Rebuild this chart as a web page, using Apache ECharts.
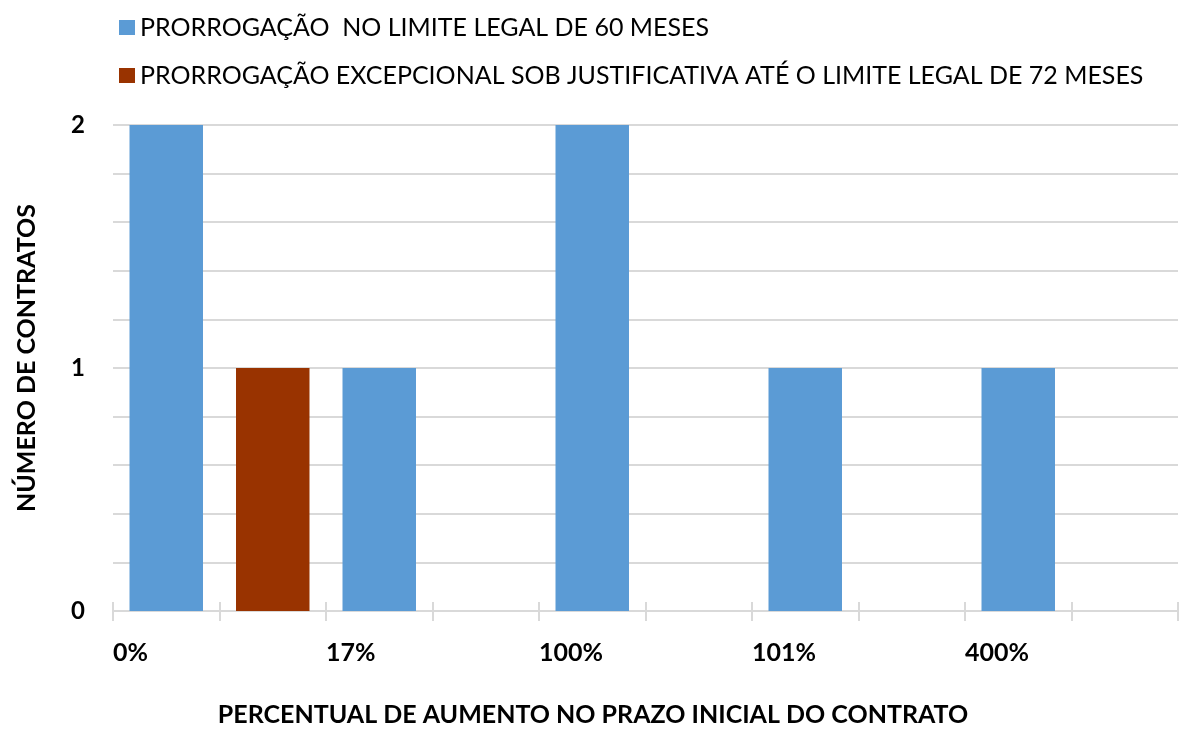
<!DOCTYPE html>
<html>
<head>
<meta charset="utf-8">
<script src="https://cdn.jsdelivr.net/npm/echarts@6/dist/echarts.min.js"></script>
<style>
  html, body { margin: 0; padding: 0; background: #fff; }
  #chart { width: 1181px; height: 731px; }
</style>
</head>
<body>
<div id="chart"></div>
<script>
// categories (one slot per band, the extra slots are the empty gaps)
const categories = ['c0', 'c1', 'c2', 'c3', 'c4', 'c5', 'c6', 'c7', 'c8', 'c9']
const xTickLabels = ['0%', '17%', '100%', '101%', '400%', '']
const seriesNames = [
  'PRORROGAÇÃO  NO LIMITE LEGAL DE 60 MESES',
  'PRORROGAÇÃO EXCEPCIONAL SOB JUSTIFICATIVA ATÉ O LIMITE LEGAL DE 72 MESES'
]
const prazo60 = [2, null, 1, null, 2, null, 1, null, 1, null]
const prazo72 = [null, 1, null, null, null, null, null, null, null, null]
const yName = 'NÚMERO DE CONTRATOS'
const xName = 'PERCENTUAL DE AUMENTO NO PRAZO INICIAL DO CONTRATO'

const font = 'Lato, "Open Sans", sans-serif'
const gridColor = '#d9d9d9'

const chart = echarts.init(document.getElementById('chart'))

const option = {
  animation: false,
  textStyle: { fontFamily: font },
  legend: {
    orient: 'vertical',
    left: 114,
    top: 10,
    itemWidth: 16,
    itemHeight: 15,
    itemGap: 23,
    icon: 'rect',
    textStyle: { fontSize: 25, color: '#000', fontFamily: font, lineHeight: 25 },
    data: seriesNames
  },
  grid: { left: 113, right: 0, top: 125, bottom: 120 },
  xAxis: [
    {
      type: 'category',
      data: categories,
      boundaryGap: true,
      axisLine: { lineStyle: { color: gridColor, width: 2 } },
      axisTick: { show: true, interval: 0, length: 10, lineStyle: { color: gridColor, width: 2 } },
      axisLabel: { show: false }
    },
    {
      // label / upper tick overlay at the band edges
      type: 'value',
      position: 'bottom',
      min: 0,
      max: 10,
      interval: 1,
      axisLine: { show: false },
      axisTick: { show: true, inside: true, length: 9, lineStyle: { color: gridColor, width: 2 } },
      splitLine: { show: false },
      axisLabel: {
        margin: 29,
        align: 'left',
        fontSize: 25,
        fontWeight: 'bold',
        color: '#000',
        fontFamily: font,
        formatter: v => (v % 2 === 0 ? xTickLabels[v / 2] : '')
      }
    }
  ],
  yAxis: {
    type: 'value',
    min: 0,
    max: 2,
    interval: 0.2,
    axisLine: { show: false },
    axisTick: { show: false },
    splitLine: { lineStyle: { color: gridColor, width: 2 } },
    axisLabel: {
      margin: 28,
      fontSize: 24,
      fontWeight: 'bold',
      color: '#000',
      fontFamily: font,
      formatter: v => (Math.abs(v - Math.round(v)) < 1e-6 ? String(Math.round(v)) : '')
    }
  },
  series: [
    {
      name: seriesNames[0],
      type: 'bar',
      xAxisIndex: 0,
      data: prazo60,
      barWidth: '69%',
      barGap: '-100%',
      itemStyle: { color: '#5b9bd5' }
    },
    {
      name: seriesNames[1],
      type: 'bar',
      xAxisIndex: 0,
      data: prazo72,
      barWidth: '69%',
      barGap: '-100%',
      itemStyle: { color: '#993300' }
    }
  ],
  graphic: [
    {
      type: 'text',
      x: 27,
      y: 358,
      rotation: Math.PI / 2,
      style: {
        text: yName,
        fontSize: 25,
        fontWeight: 'bold',
        fontFamily: font,
        fill: '#000',
        align: 'center',
        verticalAlign: 'middle'
      }
    },
    {
      type: 'text',
      x: 593,
      y: 715,
      style: {
        text: xName,
        fontSize: 25,
        fontWeight: 'bold',
        fontFamily: font,
        fill: '#000',
        align: 'center',
        verticalAlign: 'middle'
      }
    }
  ]
}

chart.setOption(option)
</script>
</body>
</html>
